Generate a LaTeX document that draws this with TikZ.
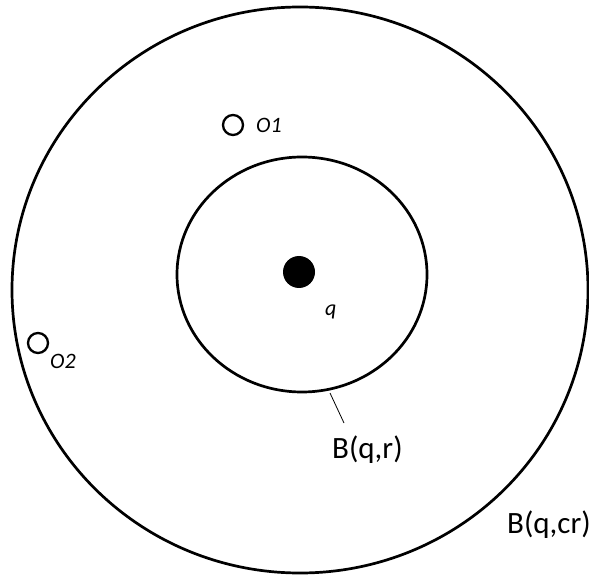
\documentclass[tikz,border=0pt]{standalone}
\usepackage{fontspec}
\setmainfont{Carlito}
\usetikzlibrary{shapes.geometric}
\begin{document}
\begin{tikzpicture}[x=1pt,y=-1pt,
  ring/.style={draw,ellipse,line width=2.7pt,inner sep=0pt},
  obj/.style={draw,circle,line width=2.3pt,minimum size=20pt,inner sep=0pt},
  small/.style={font=\fontsize{22}{26}\selectfont\itshape,inner sep=0pt},
  big/.style={font=\fontsize{31}{35}\selectfont,inner sep=0pt}]
\useasboundingbox (0,0) rectangle (589,577);
\node[ring,minimum width=576pt,minimum height=566pt] (outer) at (300,290) {};
\node[ring,minimum width=250pt,minimum height=235pt] (inner) at (302,274.5) {};
\node[circle,fill=black,minimum size=32pt,inner sep=0pt] (qdot) at (299,272) {};
\node[small,anchor=base west] (qlab) at (325,316) {q};
\node[obj] (o1) at (233,125) {};
\node[small,anchor=base west] (o1lab) at (256,133) {O1};
\node[obj] (o2) at (38,343) {};
\node[small,anchor=base west] (o2lab) at (50,368) {O2};
\node[big,anchor=base west] (br) at (332,458) {B(q,r)};
\node[big,anchor=base west] (bcr) at (507,533) {B(q,cr)};
\coordinate (p1) at (330,393);
\coordinate (p2) at (344,423);
\draw[line width=0.8pt] (p1) -- (p2);
\end{tikzpicture}
\end{document}
